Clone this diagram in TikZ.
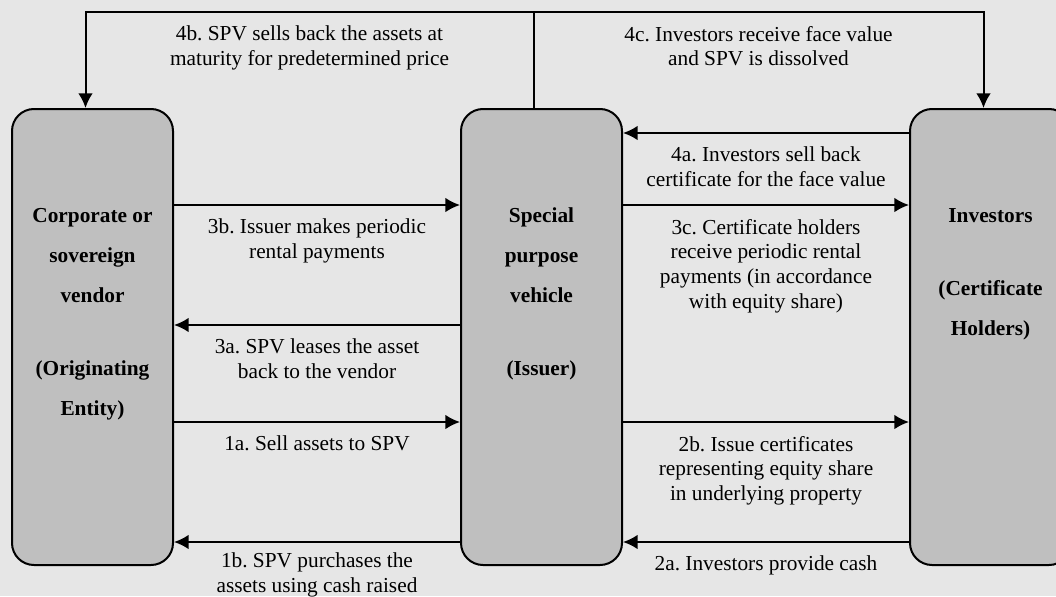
\documentclass[tikz,border=0pt]{standalone}
\usepackage{fontspec}
\setmainfont{Liberation Serif}
\usetikzlibrary{
  calc,
  positioning,
  arrows.meta
}
\definecolor{bggray}{HTML}{E6E6E6}
\definecolor{boxgray}{HTML}{BFBFBF}
\newcommand{\partytext}[1]{\raisebox{86.25pt}[0pt][0pt]{\begin{tabular}[t]{@{}c@{}}#1\end{tabular}}}
\frenchspacing

\begin{document}
\begin{tikzpicture}[x=0.75pt,y=0.75pt,node distance=214.5pt,>={Latex[length=11pt,width=11pt]},
    party/.style={draw,line width=1.5pt,fill=boxgray,rounded corners=16.5pt,minimum width=120.75pt,minimum height=342pt,inner sep=0pt,font=\fontsize{16}{30}\selectfont\bfseries},
    flow/.style={->,line width=1.5pt},
    note/.style={align=center,font=\fontsize{16}{18.5}\selectfont,inner sep=3pt,yshift=-6.75pt}]
    \clip (0,0) rectangle (1056,-596);
    \fill[bggray] (0,0) rectangle (1056,-596);

    \node[party] (vendor) at (92.5,-337) {\partytext{Corporate or\\sovereign\\vendor\\[24.75pt](Originating\\Entity)}};
    \node[party,right = of vendor] (spv) {\partytext{Special\\purpose\\vehicle\\[24.75pt](Issuer)}};
    \node[party,right = of spv] (inv) {\partytext{Investors\\[24.75pt](Certificate\\Holders)}};

    \coordinate (hub) at ($(spv.north)+(-8,96)$);
    \draw[flow] ([xshift=-6pt]spv.north) -- (hub) -| node[pos=0.25,below,note]{4b. SPV sells back the assets at\\maturity for predetermined price} ([xshift=-5.25pt]vendor.north);
    \draw[flow] (hub) -| node[pos=0.25,below,note]{4c. Investors receive face value\\and SPV is dissolved} ([xshift=-5.25pt]inv.north);

    \draw[flow] ([yshift=99pt]vendor.east) -- node[below,note]{3b. Issuer makes periodic\\rental payments} ([yshift=99pt]spv.west);
    \draw[flow] ([yshift=9pt]spv.west) -- node[below,note]{3a. SPV leases the asset\\back to the vendor} ([yshift=9pt]vendor.east);
    \draw[flow] ([yshift=-63.75pt]vendor.east) -- node[below,note]{1a. Sell assets to SPV} ([yshift=-63.75pt]spv.west);
    \draw[flow] ([yshift=-153.75pt]spv.west) -- node[below,note,yshift=2.5pt]{1b. SPV purchases the\\assets using cash raised} ([yshift=-153.75pt]vendor.east);
    \draw[flow] ([yshift=153pt]inv.west) -- node[below,note]{4a. Investors sell back\\certificate for the face value} ([yshift=153pt]spv.east);
    \draw[flow] ([yshift=99pt]spv.east) -- node[below,note]{3c. Certificate holders\\receive periodic rental\\payments (in accordance\\with equity share)} ([yshift=99pt]inv.west);
    \draw[flow] ([yshift=-63.75pt]spv.east) -- node[below,note]{2b. Issue certificates\\representing equity share\\in underlying property} ([yshift=-63.75pt]inv.west);
    \draw[flow] ([yshift=-153.75pt]inv.west) -- node[below,note]{2a. Investors provide cash} ([yshift=-153.75pt]spv.east);
\end{tikzpicture}
\end{document}
